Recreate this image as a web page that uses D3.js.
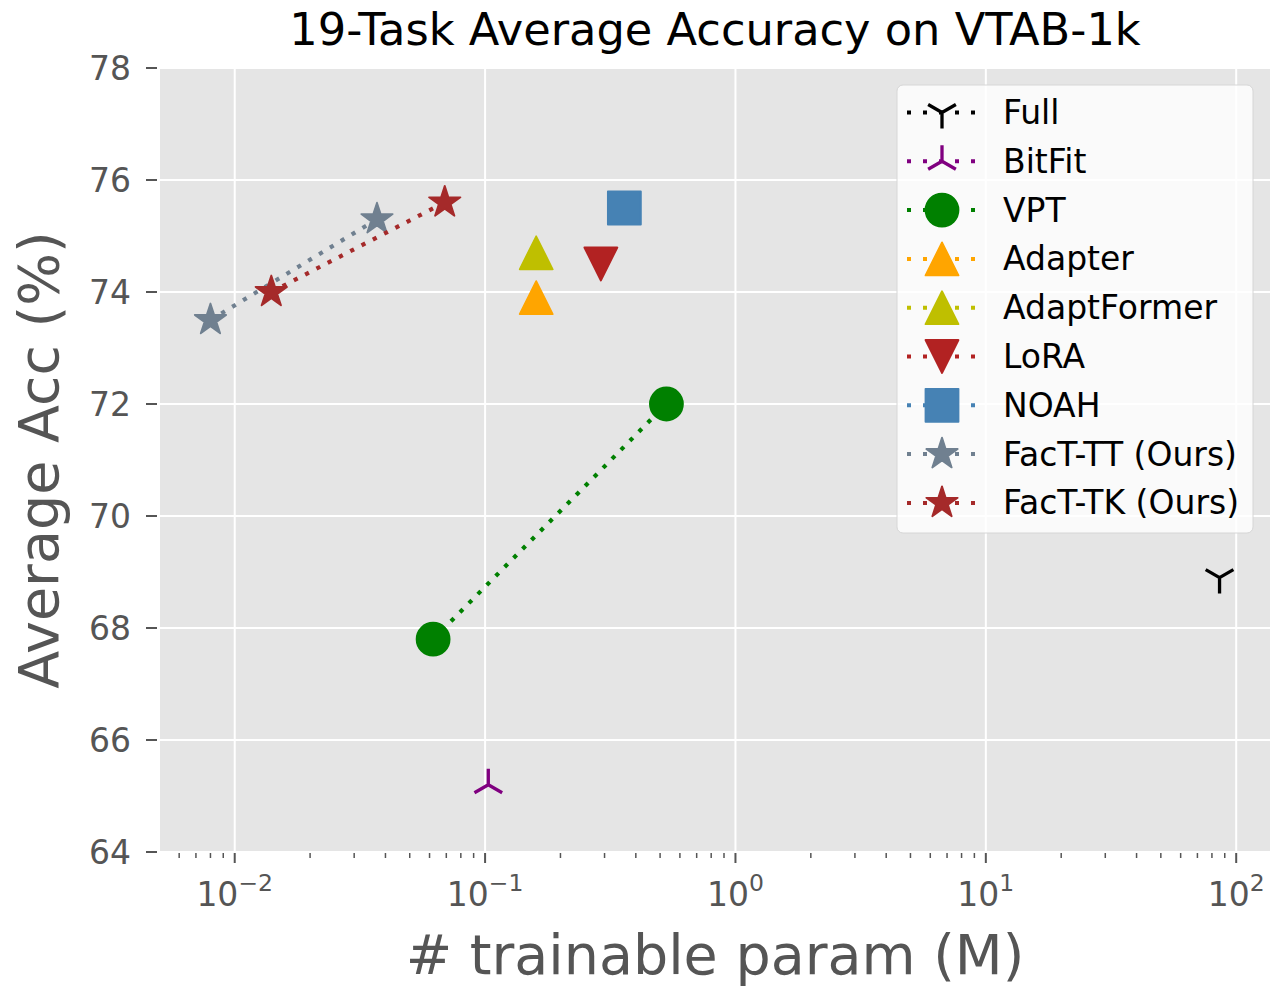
<!DOCTYPE html>
<html>
<head>
<meta charset="utf-8">
<script src="https://cdn.jsdelivr.net/npm/d3@7"></script>
<style>
  html, body { margin: 0; padding: 0; background: #fff; }
  svg { display: block; font-family: "DejaVu Sans", sans-serif; }
</style>
</head>
<body>
<svg id="chart" width="1271" height="986"></svg>
<script>
// Methods compared on VTAB-1k (trainable params in M, average accuracy in %)
const methods = ["Full", "BitFit", "VPT", "Adapter", "AdaptFormer", "LoRA", "NOAH", "FacT-TT (Ours)", "FacT-TK (Ours)"];
const params = [[85.8], [0.103], [0.062, 0.53], [0.16], [0.16], [0.29], [0.36], [0.008, 0.037], [0.014, 0.069]];
const accuracy = [[68.9], [65.2], [67.8, 72.0], [73.9], [74.7], [74.5], [75.5], [73.5, 75.3], [74.0, 75.6]];
const colors = ["#000000", "#800080", "#008000", "#ffa500", "#bfbf00", "#b22222", "#4682b4", "#708090", "#a52a2a"];
const shapes = ["tri_down", "tri_up", "circle", "triangle_up", "triangle_up", "triangle_down", "square", "star", "star"];
const yTicks = [64, 66, 68, 70, 72, 74, 76, 78];
const xTickExps = [-2, -1, 0, 1, 2];

const svg = d3.select("#chart");
const plotL = 160, plotR = 1270, plotT = 68, plotB = 852;

// log x-domain padded by 5% of the data's log span on each side
const allX = params.flat();
const lo = Math.log10(d3.min(allX)), hi = Math.log10(d3.max(allX));
const pad = (hi - lo) * 0.05;
const x = d3.scaleLog().domain([Math.pow(10, lo - pad), Math.pow(10, hi + pad)]).range([plotL, plotR]);
const y = d3.scaleLinear().domain([64, 78]).range([plotB, plotT]);

const grey = "#555555";
const tickFont = 33;

// plot background
svg.append("rect").attr("x", plotL).attr("y", plotT)
  .attr("width", plotR - plotL).attr("height", plotB - plotT).attr("fill", "#e5e5e5");

// grid
const majors = xTickExps.map(e => Math.pow(10, e));
svg.append("g").selectAll("line").data(majors).join("line")
  .attr("x1", d => x(d)).attr("x2", d => x(d)).attr("y1", plotT).attr("y2", plotB)
  .attr("stroke", "#fff").attr("stroke-width", 2);
svg.append("g").selectAll("line").data(yTicks).join("line")
  .attr("x1", plotL).attr("x2", plotR).attr("y1", d => y(d)).attr("y2", d => y(d))
  .attr("stroke", "#fff").attr("stroke-width", 2);

// x axis ticks (major + minor)
const minors = [];
for (let e = -3; e <= 2; e++) for (let m = 2; m <= 9; m++) {
  const v = m * Math.pow(10, e);
  if (v >= x.domain()[0] && v <= x.domain()[1]) minors.push(v);
}
svg.append("g").selectAll("line").data(minors).join("line")
  .attr("x1", d => x(d)).attr("x2", d => x(d)).attr("y1", plotB + 1).attr("y2", plotB + 6)
  .attr("stroke", grey).attr("stroke-width", 1.5);
svg.append("g").selectAll("line").data(majors).join("line")
  .attr("x1", d => x(d)).attr("x2", d => x(d)).attr("y1", plotB + 1).attr("y2", plotB + 11)
  .attr("stroke", grey).attr("stroke-width", 2);

const xl = svg.append("g").selectAll("text").data(xTickExps).join("text")
  .attr("x", d => x(Math.pow(10, d))).attr("y", 906)
  .attr("text-anchor", "middle").attr("fill", grey).attr("font-size", tickFont);
xl.append("tspan").text("10");
xl.append("tspan").attr("dy", -15).attr("font-size", 23.5)
  .text(d => d < 0 ? "\u2212" + Math.abs(d) : String(d));

// y axis ticks
svg.append("g").selectAll("line").data(yTicks).join("line")
  .attr("x1", 146).attr("x2", 157).attr("y1", d => y(d)).attr("y2", d => y(d))
  .attr("stroke", grey).attr("stroke-width", 2);
svg.append("g").selectAll("text").data(yTicks).join("text")
  .attr("x", 131).attr("y", d => y(d) + 12)
  .attr("text-anchor", "end").attr("fill", grey).attr("font-size", tickFont)
  .text(d => d);

// axis labels and title
svg.append("text").attr("x", (plotL + plotR) / 2).attr("y", 974)
  .attr("text-anchor", "middle").attr("fill", grey).attr("font-size", 55.5)
  .text("# trainable param (M)");
svg.append("text").attr("transform", `translate(58,${(plotT + plotB) / 2}) rotate(-90)`)
  .attr("text-anchor", "middle").attr("fill", grey).attr("font-size", 55.5)
  .text("Average Acc (%)");
svg.append("text").attr("x", (plotL + plotR) / 2).attr("y", 45)
  .attr("text-anchor", "middle").attr("fill", "#000").attr("font-size", 44.7)
  .text("19-Task Average Accuracy on VTAB-1k");

// marker path generator (size = marker diameter in px)
function markerPath(shape, s) {
  const r = s / 2;
  switch (shape) {
    case "circle": {
      const p = d3.path(); p.arc(0, 0, r, 0, 2 * Math.PI); p.closePath(); return p.toString();
    }
    case "triangle_up":
      return `M0,${-r}L${r},${r}L${-r},${r}Z`;
    case "triangle_down":
      return `M0,${r}L${r},${-r}L${-r},${-r}Z`;
    case "square":
      return `M${-r},${-r}H${r}V${r}H${-r}Z`;
    case "star": {
      const inner = r * 0.381966;
      let d = "";
      for (let i = 0; i < 10; i++) {
        const a = -Math.PI / 2 + i * Math.PI / 5;
        const rr = i % 2 === 0 ? r : inner;
        d += (i === 0 ? "M" : "L") + (rr * Math.cos(a)).toFixed(2) + "," + (rr * Math.sin(a)).toFixed(2);
      }
      return d + "Z";
    }
    case "tri_up": {
      const c = 0.866 * r, h = 0.5 * r;
      return `M0,0L0,${-r}M0,0L${-c},${h}M0,0L${c},${h}`;
    }
    case "tri_down": {
      const c = 0.866 * r, h = 0.5 * r;
      return `M0,0L0,${r}M0,0L${-c},${-h}M0,0L${c},${-h}`;
    }
  }
}
function drawMarker(g, shape, color, cx, cy) {
  const isTri = shape === "tri_up" || shape === "tri_down";
  const size = isTri ? 32 : 33;
  g.append("path").attr("d", markerPath(shape, size))
    .attr("transform", `translate(${cx},${cy})`)
    .attr("fill", isTri ? "none" : color)
    .attr("stroke", color).attr("stroke-width", isTri ? 3.3 : 1.8)
    .attr("stroke-linejoin", "round");
}

// series: dotted connecting lines then markers
const plot = svg.append("g");
methods.forEach((m, i) => {
  const pts = params[i].map((p, j) => [x(p), y(accuracy[i][j])]);
  if (pts.length > 1) {
    plot.append("path").attr("d", d3.line()(pts))
      .attr("fill", "none").attr("stroke", colors[i])
      .attr("stroke-width", 4.2).attr("stroke-dasharray", "4.2 8.5");
  }
  pts.forEach(p => drawMarker(plot, shapes[i], colors[i], p[0], p[1]));
});

// legend
const lg = svg.append("g");
lg.append("rect").attr("x", 897).attr("y", 85).attr("width", 356).attr("height", 448)
  .attr("rx", 6).attr("fill", "rgba(255,255,255,0.8)").attr("stroke", "#d6d6d6").attr("stroke-width", 1);
methods.forEach((m, i) => {
  const cy = 112.5 + i * 48.8;
  lg.append("line").attr("x1", 907).attr("x2", 978).attr("y1", cy).attr("y2", cy)
    .attr("stroke", colors[i]).attr("stroke-width", 4).attr("stroke-dasharray", "4 12");
  drawMarker(lg, shapes[i], colors[i], 942, cy);
  lg.append("text").attr("x", 1003).attr("y", cy + 11.5).attr("font-size", 33)
    .attr("fill", "#000").text(m);
});
</script>
</body>
</html>
